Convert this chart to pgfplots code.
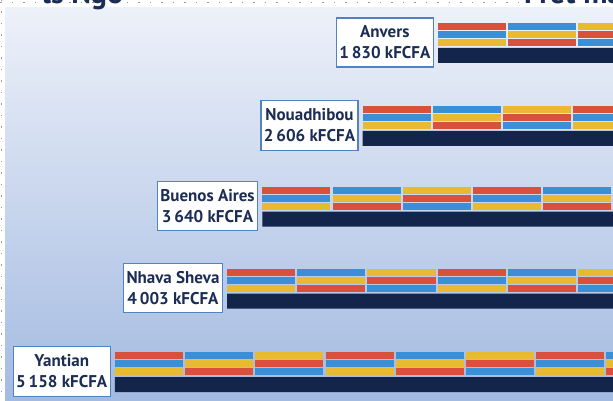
\documentclass[border=0pt]{standalone}
\usepackage{fontspec}
\setmainfont{PT Sans}
\usepackage{pgfplots}
\usepackage{pgfplotstable}
\pgfplotsset{compat=1.18}
\definecolor{navy}{HTML}{13254B}
\definecolor{textnavy}{HTML}{1B2D55}
\definecolor{boxline}{HTML}{5282C6}
\definecolor{bgtop}{HTML}{EDF1F9}
\definecolor{bgbot}{HTML}{A3BAE1}
\definecolor{dots}{HTML}{9A9A9A}

% port, cost (kFCFA), row position (px from top)
\pgfplotstableread[col sep=comma]{
name,val,y
Anvers,1830,55.5
Nouadhibou,2606,138.5
Buenos Aires,3640,219
Nhava Sheva,4003,301
Yantian,5158,384.5
}\ports

% container blocks: start, end, block index, row
\pgfplotstableread{
x0   x1   k y
1830 1128 0 55.5
1107 405  1 55.5
384  0    2 55.5
2606 1904 0 138.5
1883 1181 1 138.5
1160 458  2 138.5
437  0    3 138.5
3640 2938 0 219
2917 2215 1 219
2194 1492 2 219
1471 769  3 219
748  46   4 219
25   0    5 219
4003 3301 0 301
3280 2578 1 301
2557 1855 2 301
1834 1132 3 301
1111 409  4 301
388  0    5 301
5158 4456 0 384.5
4435 3733 1 384.5
3712 3010 2 384.5
2989 2287 3 384.5
2266 1564 4 384.5
1543 841  5 384.5
820  118  6 384.5
97   0    7 384.5
}\segs

\begin{document}
\begin{tikzpicture}
\useasboundingbox (0,0) rectangle (613pt,401pt);
\clip (0,0) rectangle (613pt,401pt);
\fill[white] (0,0) rectangle (613pt,401pt);
\shade[top color=bgtop, bottom color=bgbot] (5pt,0) rectangle (613pt,393pt);
\draw[dots, line width=1pt, dash pattern=on 1.5pt off 10pt] (1.5pt,401pt) -- (1.5pt,0);
\draw[dots, line width=1pt, dash pattern=on 1.5pt off 10pt] (0,398.5pt) -- (520pt,398.5pt);
\node[anchor=base west, inner sep=0, text=textnavy, font=\fontsize{30}{30}\selectfont\bfseries] at (42pt,397pt) {ls Ngo};
\node[anchor=base west, inner sep=0, text=textnavy, font=\fontsize{30}{30}\selectfont\bfseries] at (524pt,397pt) {Fret maritime};

\begin{axis}[
    at={(0,0)}, anchor=south west,
    width=613pt, height=401pt, scale only axis,
    xmin=28, xmax=6342, x dir=reverse,
    ymin=0, ymax=401, y dir=reverse,
    hide axis,
    colormap={blocks}{rgb255=(217,81,58) rgb255=(58,143,214) rgb255=(233,185,52)},
    point meta min=0, point meta max=2,
]
% navy base bars
\addplot[xbar, bar width=15, fill=navy, draw=none,
    point meta=explicit symbolic,
    visualization depends on={rawx \as \rawval},
    nodes near coords={\pgfplotspointmeta\\\pgfmathprintnumber[1000 sep={\,}, assume math mode=true]{\rawval} kFCFA},
    every node near coord/.append style={anchor=east, xshift=-4pt, yshift=13pt,
        fill=white, draw=boxline, line width=1.3pt, align=center,
        font=\fontsize{17}{21}\selectfont\bfseries, text=textnavy,
        inner xsep=3pt, inner ysep=8pt},
] table[x=val, y=y, meta=name] {\ports};
% three stripes of blocks
\addplot[no markers, line width=7pt, point meta={mod(\thisrow{k},3)},
    quiver={u=\thisrow{x1}-\thisrow{x0}, v=0, colored}]
    table[x=x0, y expr=\thisrow{y}-29] {\segs};
\addplot[no markers, line width=7pt, point meta={mod(\thisrow{k}+1,3)},
    quiver={u=\thisrow{x1}-\thisrow{x0}, v=0, colored}]
    table[x=x0, y expr=\thisrow{y}-21] {\segs};
\addplot[no markers, line width=7pt, point meta={mod(\thisrow{k}+2,3)},
    quiver={u=\thisrow{x1}-\thisrow{x0}, v=0, colored}]
    table[x=x0, y expr=\thisrow{y}-13] {\segs};
\end{axis}
\end{tikzpicture}
\end{document}
